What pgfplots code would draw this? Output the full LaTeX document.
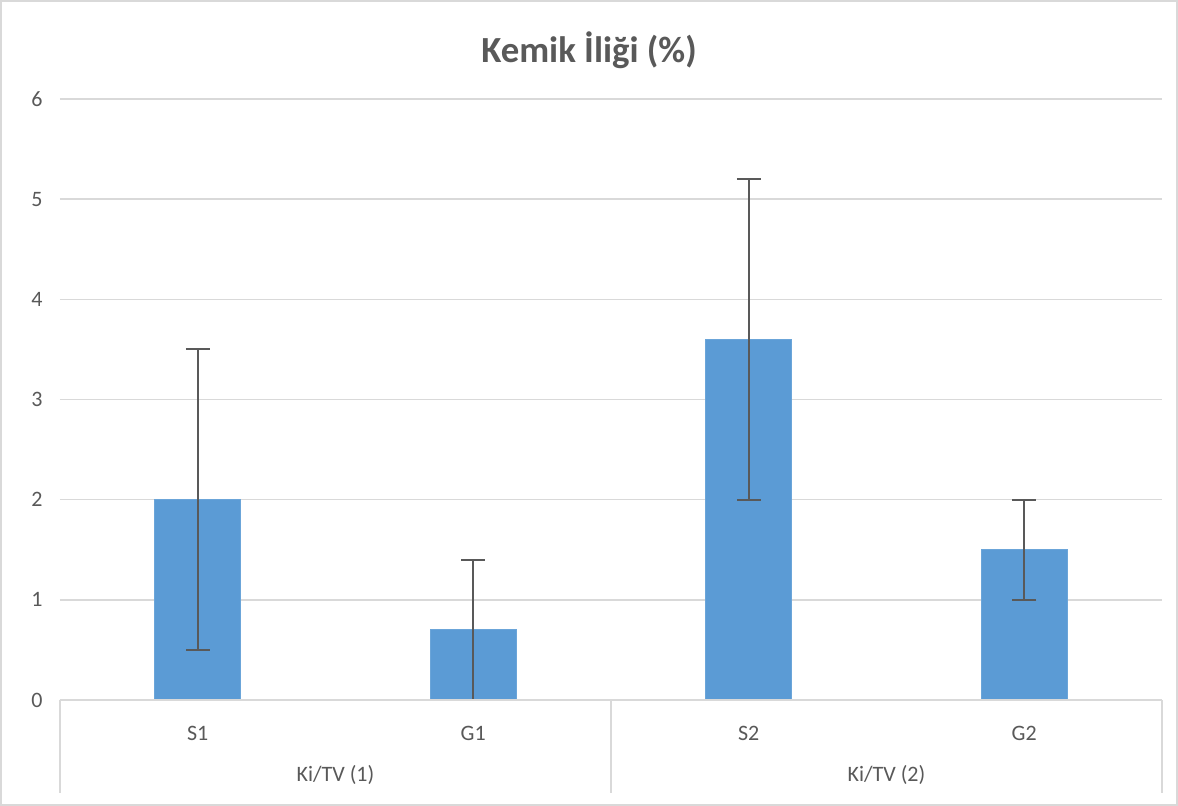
\documentclass[border=0pt]{standalone}
\usepackage{pgfplots}
\pgfplotsset{compat=1.18}
\usepackage{fontspec}
\setmainfont{Carlito}
\definecolor{barblue}{HTML}{5B9BD5}
\definecolor{txt}{HTML}{595959}
\definecolor{grd}{HTML}{D9D9D9}
\definecolor{errc}{HTML}{595959}
\begin{document}
\begin{tikzpicture}
\fill[white] (-30bp,-53bp) rectangle (559bp,350bp);
\draw[grd, line width=0.8bp] (-29.5bp,-52.5bp) rectangle (558.5bp,349.5bp);
\begin{axis}[
  at={(0,0)}, anchor=south west,
  scale only axis, width=551bp, height=300.5bp,
  xmin=-0.5, xmax=3.5, ymin=0, ymax=6,
  axis line style={draw=none},
  ytick={0,1,2,3,4,5,6},
  ymajorgrids, grid style={grd, line width=0.8bp},
  major tick length=0pt,
  xtick=data, xticklabels={S1,G1,S2,G2},
  xticklabel style={anchor=center, yshift=-16.5bp, font=\fontsize{11bp}{13bp}\selectfont, text=txt},
  yticklabel style={anchor=center, xshift=-11.5bp, font=\fontsize{11bp}{13bp}\selectfont, text=txt},
  /pgf/number format/assume math mode=true,
  clip=false,
  ybar, bar width=43bp,
]
\addplot[fill=barblue, draw=barblue!90!white, bar shift=0pt,
  error bars/.cd, y dir=both, y explicit,
  error bar style={errc, line width=1bp},
  error mark options={errc, line width=1bp, mark size=6bp, rotate=90}]
  coordinates {(0,2.0) +- (0,1.5) (1,0.7) +- (0,0.7) (2,3.6) +- (0,1.6) (3,1.5) +- (0,0.5)};
\draw[grd, line width=0.8bp] (axis cs:-0.5,0) -- (axis cs:3.5,0);
\draw[grd, line width=0.8bp] (axis cs:-0.5,0) -- (axis cs:-0.5,-0.93);
\draw[grd, line width=0.8bp] (axis cs:1.5,0) -- (axis cs:1.5,-0.93);
\draw[grd, line width=0.8bp] (axis cs:3.5,0) -- (axis cs:3.5,-0.93);
\node[text=txt, font=\fontsize{11bp}{13bp}\selectfont] at (axis cs:0.5,-0.75) {Ki/TV (1)};
\node[text=txt, font=\fontsize{11bp}{13bp}\selectfont] at (axis cs:2.5,-0.75) {Ki/TV (2)};
\end{axis}
\node[text=txt, font=\fontsize{18.4bp}{21bp}\selectfont\bfseries] at (264.5bp,325bp) {Kemik İliği (\%)};
\end{tikzpicture}
\end{document}
